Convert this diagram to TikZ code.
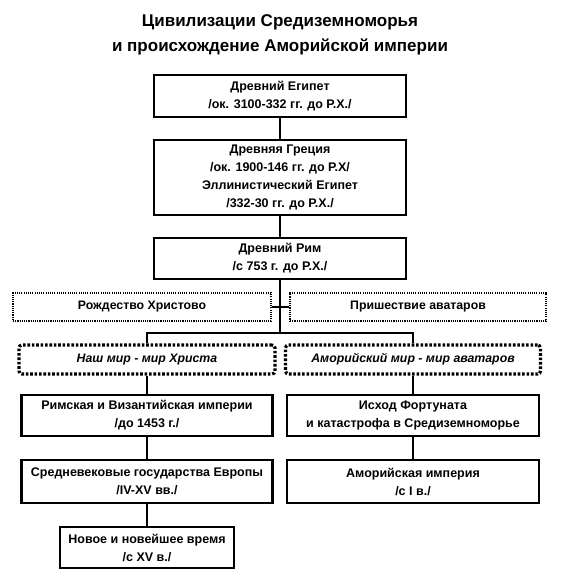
\documentclass[tikz,border=0pt]{standalone}
\usepackage{fontspec}
\setmainfont{Liberation Sans}
\usepackage{tikz}
\usetikzlibrary{positioning,calc}

\tikzset{
    era/.style={draw, line width=2.8pt, align=center, inner sep=2pt,
        font=\fontsize{12.5}{18}\selectfont\bfseries},
    event/.style={draw, line width=2.8pt, dash pattern=on 1.1pt off 1.1pt,
        align=center, minimum height=28pt, font=\fontsize{12.3}{18}\selectfont\bfseries},
    world/.style={draw, line width=3.2pt, dash pattern=on 2.6pt off 1.8pt, rounded corners=3pt,
        align=center, minimum height=29pt, font=\fontsize{12.3}{18}\selectfont\bfseries\itshape},
    link/.style={line width=2.8pt}
}

\begin{document}
\begin{tikzpicture}[x=1pt, y=-1pt]
    \useasboundingbox (0,0) rectangle (560,583);

    % Title
    \node[align=center, font=\fontsize{17}{25}\selectfont\bfseries] (title) at (280,35)
        {Цивилизации Средиземноморья\\и происхождение Аморийской империи};

    % Main trunk
    \node[era, minimum width=252pt, minimum height=42pt] (egypt) at (280,96)
        {Древний Египет\\/ок. 3100-332 гг. до Р.Х./};
    \node[era, minimum width=252pt, minimum height=75pt] (greece) at (280,177.5)
        {Древняя Греция\\/ок. 1900-146 гг. до Р.Х/\\Эллинистический Египет\\/332-30 гг. до Р.Х./};
    \node[era, minimum width=252pt, minimum height=41pt] (rome) at (280,258.5)
        {Древний Рим\\/с 753 г. до Р.Х./};

    % Events
    \node[event, minimum width=258pt] (birth) at (142,307) {Рождество Христово};
    \node[event, minimum width=256pt] (avatars) at (418,307) {Пришествие аватаров};

    % Two worlds
    \node[world, minimum width=256pt] (ourworld) at (147,359.5) {Наш мир - мир Христа};
    \node[world, minimum width=255pt] (amorworld) at (413,359.5) {Аморийский мир - мир аватаров};

    % Left branch
    \node[era, minimum width=251pt, minimum height=41pt] (byz) at (147,415.5)
        {Римская и Византийская империи\\/до 1453 г./};
    \node[era, minimum width=251pt, minimum height=43pt] (medieval) at (147,481.5)
        {Средневековые государства Европы\\/IV-XV вв./};
    \node[era, minimum width=174pt, minimum height=41pt] (modern) at (147,547.5)
        {Новое и новейшее время\\/с XV в./};

    % Right branch
    \node[era, minimum width=252pt, minimum height=41pt] (fortunat) at (413,415.5)
        {Исход Фортуната\\и катастрофа в Средиземноморье};
    \node[era, minimum width=252pt, minimum height=43pt] (amorempire) at (413,481.5)
        {Аморийская империя\\/с I в./};

    % Connectors
    \coordinate (split) at (280,333);
    \draw[link] (egypt) -- (greece);
    \draw[link] (greece) -- (rome);
    \draw[link] (rome) -- (split);
    \draw[link] (birth) -- (avatars);
    \draw[link] (ourworld) |- (split) -| (amorworld);
    \draw[link] (ourworld) -- (byz);
    \draw[link] (byz) -- (medieval);
    \draw[link] (medieval) -- (modern);
    \draw[link] (amorworld) -- (fortunat);
    \draw[link] (fortunat) -- (amorempire);
\end{tikzpicture}
\end{document}
